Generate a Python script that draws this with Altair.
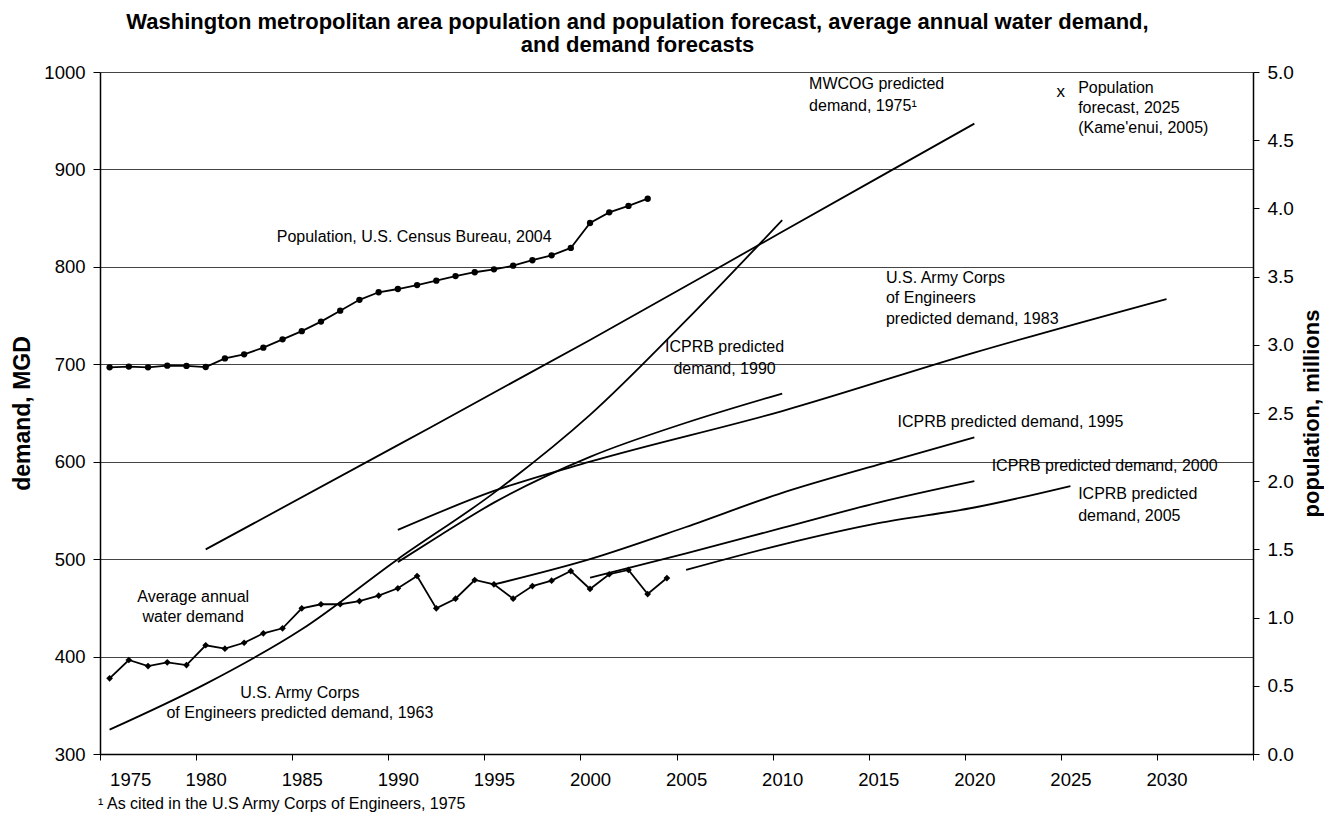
import altair as alt
import pandas as pd

# ---------------- data ----------------
pop_years = list(range(1975, 2004))
population = [2.835, 2.84, 2.835, 2.847, 2.845, 2.837, 2.90, 2.93, 2.979, 3.04,
              3.10, 3.17, 3.25, 3.33, 3.385, 3.409, 3.438, 3.47, 3.504, 3.532,
              3.553, 3.58, 3.62, 3.656, 3.71, 3.893, 3.971, 4.018, 4.071]

demand_years = list(range(1975, 2005))
demand = [377.7, 396.5, 390.3, 394.1, 391.3, 411.6, 408.1, 414.2, 423.9, 429.0,
          449.5, 453.7, 453.7, 457.0, 462.5, 470.1, 482.7, 449.5, 459.4, 478.6,
          474.2, 459.4, 472.4, 477.9, 487.8, 469.4, 484.5, 488.9, 464.2, 480.6]

usace63_years = [1975, 1980, 1985, 1990, 1995, 2000, 2005, 2010]
usace63 = [325, 372, 428, 500, 568, 648, 745, 848]
mwcog_years = [1980, 1990, 2000, 2010, 2020]
mwcog = [510, 617, 725, 836, 947]
usace83_years = [1990, 1995, 2000, 2010, 2020, 2030]
usace83 = [530, 570, 600, 652, 712, 767]
icprb90_years = [1990, 1992, 1995, 2000, 2005, 2010]
icprb90 = [497, 522, 558, 605, 640, 670]
icprb95_years = [1995, 2000, 2005, 2010, 2015, 2020]
icprb95 = [474, 500, 533, 568, 597, 625]
icprb00_years = [2000, 2005, 2010, 2015, 2020]
icprb00 = [481, 506, 532, 558, 580]
icprb05_years = [2005, 2010, 2015, 2020, 2025]
icprb05 = [489, 515, 537, 553, 575]

forecast_year = [2024.5]
forecast_pop = [4.85]

x_tick_positions = [1974.5 + 5 * i for i in range(13)]
y_left_ticks = [300, 400, 500, 600, 700, 800, 900, 1000]
y_right_ticks = [0.0, 0.5, 1.0, 1.5, 2.0, 2.5, 3.0, 3.5, 4.0, 4.5, 5.0]

title_lines = ["Washington metropolitan area population and population forecast,  average annual water demand,",
               "and demand forecasts"]

# annotations (text, year, MGD)
ann_left = [
    ("MWCOG predicted", 2011.4, 987.7),
    ("demand, 1975\u00b9", 2011.4, 965.1),
    ("U.S. Army Corps", 2015.4, 788.2),
    ("of Engineers", 2015.4, 767.7),
    ("predicted demand, 1983", 2015.4, 746.1),
    ("ICPRB predicted demand, 1995", 2016.0, 641.0),
    ("ICPRB predicted demand, 2000", 2020.9, 595.6),
    ("ICPRB predicted", 2025.4, 566.9),
    ("demand, 2005", 2025.4, 544.3),
    ("\u00b9 As cited in the U.S Army Corps of Engineers, 1975", 1974.4, 248.5),
]
ann_center = [
    ("Average annual", 1979.35, 460.8),
    ("water demand", 1979.35, 440.9),
    ("U.S. Army Corps", 1984.9, 362.3),
    ("of Engineers predicted demand, 1963", 1984.9, 341.8),
    ("ICPRB predicted", 2007.0, 717.7),
    ("demand, 1990", 2007.0, 695.2),
]
ann_right = [
    ("Population, U.S. Census Bureau, 2004", 1998.0, 830.9),
]
pop_ann = [
    ("Population", 2025.4, 4.88),
    ("forecast, 2025", 2025.4, 4.734),
    ("(Kame'enui, 2005)", 2025.4, 4.587),
]

# ---------------- tables ----------------
FONT = "Liberation Sans"

series = [("USACE 1963", usace63_years, usace63), ("MWCOG 1975", mwcog_years, mwcog),
          ("USACE 1983", usace83_years, usace83), ("ICPRB 1990", icprb90_years, icprb90),
          ("ICPRB 1995", icprb95_years, icprb95), ("ICPRB 2000", icprb00_years, icprb00),
          ("ICPRB 2005", icprb05_years, icprb05)]
fc_rows = []
for name, ys, vs in series:
    for y, v in zip(ys, vs):
        fc_rows.append({"series": name, "year": y, "mgd": v})
fc_df = pd.DataFrame(fc_rows)
dem_df = pd.DataFrame({"year": demand_years, "mgd": demand})
pop_df = pd.DataFrame({"year": pop_years, "pop": population})
fpop_df = pd.DataFrame({"year": forecast_year, "pop": forecast_pop, "t": ["x"]})


def tdf(rows, ycol):
    return pd.DataFrame({"t": [r[0] for r in rows], "year": [r[1] for r in rows], ycol: [r[2] for r in rows]})


xaxis = alt.Axis(values=x_tick_positions, labelExpr="datum.value > 2031 ? '' : format(datum.value + 0.5, 'd')",
                 labelOffset=9.6, grid=False, tickSize=6, labelPadding=10, tickColor="black",
                 domainColor="black", domainWidth=1.5, labelFontSize=18.5, title=None)
X = alt.X("year:Q", scale=alt.Scale(domain=[1974.5, 2034.5], nice=False, zero=False), axis=xaxis)

yl_axis = alt.Axis(values=y_left_ticks, format="d", title="demand, MGD", grid=True, gridColor="#444", gridWidth=1,
                   tickSize=7, labelPadding=8, domainColor="black", domainWidth=1.5, tickColor="black",
                   labelFontSize=18.5, titleFontSize=23, titleFontWeight="bold",
                   titleAngle=270, titleX=-78, titleY=341, titleAlign="center", titleBaseline="middle")
YL = alt.Y("mgd:Q", scale=alt.Scale(domain=[300, 1000], nice=False, zero=False), axis=yl_axis)

yr_axis = alt.Axis(values=y_right_ticks, orient="right", format=".1f", title="population, millions",
                   grid=False, tickSize=6, labelPadding=8, domainColor="black", domainWidth=1.5,
                   tickColor="black", labelFontSize=19, titleFontSize=22, titleFontWeight="bold",
                   titleAngle=270, titleX=58, titleY=341, titleAlign="center", titleBaseline="middle")
YR = alt.Y("pop:Q", scale=alt.Scale(domain=[0, 5], nice=False, zero=False), axis=yr_axis)

fc_lines = alt.Chart(fc_df).mark_line(color="black", strokeWidth=1.8, interpolate="monotone").encode(
    x=X, y=YL, detail="series:N")
dem_line = alt.Chart(dem_df).mark_line(color="black", strokeWidth=1.8).encode(x=X, y=YL)
dem_pts = alt.Chart(dem_df).mark_point(shape="diamond", filled=True, color="black", size=45, opacity=1).encode(x=X, y=YL)


def text_layer(rows, align, ycol, Y):
    return alt.Chart(tdf(rows, ycol)).mark_text(align=align, baseline="middle", font=FONT, fontSize=16,
                                                color="black").encode(x=X, y=Y, text="t:N")


left = alt.layer(fc_lines, dem_line, dem_pts,
                 text_layer(ann_left, "left", "mgd", YL),
                 text_layer(ann_center, "center", "mgd", YL),
                 text_layer(ann_right, "right", "mgd", YL))

pop_line = alt.Chart(pop_df).mark_line(color="black", strokeWidth=1.8).encode(x=X, y=YR)
pop_pts = alt.Chart(pop_df).mark_circle(color="black", size=40, opacity=1).encode(x=X, y=YR)
fpop = alt.Chart(fpop_df).mark_text(font=FONT, fontSize=17, color="black", baseline="middle").encode(
    x=X, y=YR, text="t:N")
right = alt.layer(pop_line, pop_pts, fpop, text_layer(pop_ann, "left", "pop", YR))

chart = alt.layer(left, right).resolve_scale(y="independent").properties(
    width=1153, height=682,
    autosize=alt.AutoSizeParams(type="none"),
    padding={"left": 92, "top": 64, "right": 71, "bottom": 60},
    title=alt.TitleParams(text=title_lines, font=FONT, fontSize=22, fontWeight="bold", anchor="middle",
                          offset=6, lineHeight=23, dx=-39, color="black"),
).configure_view(stroke=None).configure_axis(
    labelFont=FONT, titleFont=FONT, labelColor="black", titleColor="black"
).configure(background="white")

chart.save("out.html", embed_options={"renderer": "svg", "actions": False})
